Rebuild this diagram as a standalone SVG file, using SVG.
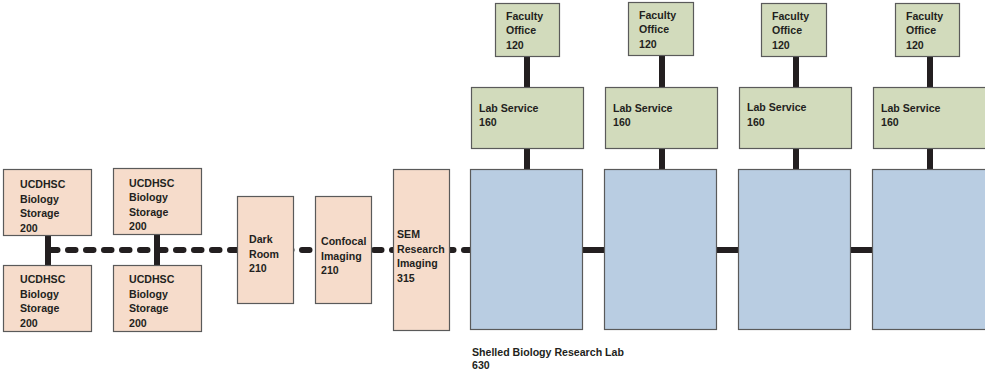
<svg xmlns="http://www.w3.org/2000/svg" width="985" height="370" viewBox="0 0 985 370">
  <style>
    .peach { fill: #f6dccb; stroke: #5a5a5a; stroke-width: 1.2; }
    .green { fill: #d2dbbc; stroke: #5a5a5a; stroke-width: 1.2; }
    .blue { fill: #b9cde2; stroke: #5a5a5a; stroke-width: 1.2; }
    text { font-family: "Liberation Sans", Arial, sans-serif; font-weight: bold; font-size: 10.6px; fill: #231f20; }
    .solid { stroke: #231f20; stroke-width: 6; fill: none; }
    .dash { stroke: #231f20; stroke-width: 6; fill: none; stroke-linecap: round; stroke-dasharray: 7.5 10.5; }
  </style>

  <!-- connectors drawn beneath the rooms -->
  <g id="connectors">
    <line class="dash" x1="50" y1="250" x2="470" y2="250"/>
    <line class="solid" x1="48" y1="234" x2="48" y2="266"/>
    <line class="solid" x1="157" y1="234" x2="157" y2="266"/>
    <line class="solid" x1="583" y1="250" x2="605" y2="250"/>
    <line class="solid" x1="717" y1="250" x2="739" y2="250"/>
    <line class="solid" x1="850" y1="250" x2="873" y2="250"/>
    <line class="solid" x1="527" y1="56" x2="527" y2="170"/>
    <line class="solid" x1="662" y1="54" x2="662" y2="170"/>
    <line class="solid" x1="796" y1="55" x2="796" y2="170"/>
    <line class="solid" x1="930" y1="55" x2="930" y2="170"/>
  </g>

  <!-- biology storage -->
  <g id="storage-1">
    <rect class="peach" x="3.5" y="169.5" width="88" height="66"/>
    <text x="20" y="188">UCDHSC</text>
    <text x="20" y="203">Biology</text>
    <text x="20" y="217">Storage</text>
    <text x="20" y="232">200</text>
  </g>
  <g id="storage-2">
    <rect class="peach" x="113.5" y="168.5" width="88" height="66"/>
    <text x="129" y="187">UCDHSC</text>
    <text x="129" y="201">Biology</text>
    <text x="129" y="216">Storage</text>
    <text x="129" y="230">200</text>
  </g>
  <g id="storage-3">
    <rect class="peach" x="3.5" y="265.5" width="88" height="66"/>
    <text x="20" y="283">UCDHSC</text>
    <text x="20" y="298">Biology</text>
    <text x="20" y="312">Storage</text>
    <text x="20" y="327">200</text>
  </g>
  <g id="storage-4">
    <rect class="peach" x="113.5" y="265.5" width="88" height="66"/>
    <text x="129" y="283">UCDHSC</text>
    <text x="129" y="298">Biology</text>
    <text x="129" y="312">Storage</text>
    <text x="129" y="327">200</text>
  </g>

  <!-- imaging suite -->
  <g id="dark-room">
    <rect class="peach" x="237.5" y="196.5" width="56" height="107"/>
    <text x="249" y="243">Dark</text>
    <text x="249" y="258">Room</text>
    <text x="249" y="272">210</text>
  </g>
  <g id="confocal">
    <rect class="peach" x="315.5" y="196.5" width="56" height="107"/>
    <text x="321" y="245">Confocal</text>
    <text x="321" y="260">Imaging</text>
    <text x="321" y="274">210</text>
  </g>
  <g id="sem">
    <rect class="peach" x="393.5" y="169.5" width="56" height="161"/>
    <text x="397" y="238">SEM</text>
    <text x="397" y="253">Research</text>
    <text x="397" y="267">Imaging</text>
    <text x="397" y="282">315</text>
  </g>

  <!-- research lab bays -->
  <g id="lab-1">
    <rect class="blue" x="470.5" y="169.5" width="112" height="160"/>
  </g>
  <g id="lab-2">
    <rect class="blue" x="604.5" y="169.5" width="112" height="160"/>
  </g>
  <g id="lab-3">
    <rect class="blue" x="738.5" y="169.5" width="112" height="160"/>
  </g>
  <g id="lab-4">
    <rect class="blue" x="872.5" y="169.5" width="120" height="160"/>
  </g>
  <g id="lab-label">
    <text x="472" y="356">Shelled Biology Research Lab</text>
    <text x="472" y="369">630</text>
  </g>

  <!-- lab service -->
  <g id="service-1">
    <rect class="green" x="471.5" y="87.5" width="112" height="61"/>
    <text x="479" y="112">Lab Service</text>
    <text x="479" y="126">160</text>
  </g>
  <g id="service-2">
    <rect class="green" x="605.5" y="87.5" width="112" height="61"/>
    <text x="613" y="112">Lab Service</text>
    <text x="613" y="126">160</text>
  </g>
  <g id="service-3">
    <rect class="green" x="739.5" y="87.5" width="112" height="61"/>
    <text x="747" y="111">Lab Service</text>
    <text x="747" y="126">160</text>
  </g>
  <g id="service-4">
    <rect class="green" x="873.5" y="87.5" width="120" height="61"/>
    <text x="881" y="112">Lab Service</text>
    <text x="881" y="126">160</text>
  </g>

  <!-- faculty offices -->
  <g id="office-1">
    <rect class="green" x="495.5" y="3.5" width="64" height="53"/>
    <text x="506" y="20">Faculty</text>
    <text x="506" y="34">Office</text>
    <text x="506" y="49">120</text>
  </g>
  <g id="office-2">
    <rect class="green" x="628.5" y="2.5" width="65" height="53"/>
    <text x="639" y="19">Faculty</text>
    <text x="639" y="33">Office</text>
    <text x="639" y="48">120</text>
  </g>
  <g id="office-3">
    <rect class="green" x="761.5" y="3.5" width="65" height="53"/>
    <text x="772" y="20">Faculty</text>
    <text x="772" y="34">Office</text>
    <text x="772" y="49">120</text>
  </g>
  <g id="office-4">
    <rect class="green" x="895.5" y="3.5" width="64" height="53"/>
    <text x="906" y="20">Faculty</text>
    <text x="906" y="34">Office</text>
    <text x="906" y="49">120</text>
  </g>
</svg>
